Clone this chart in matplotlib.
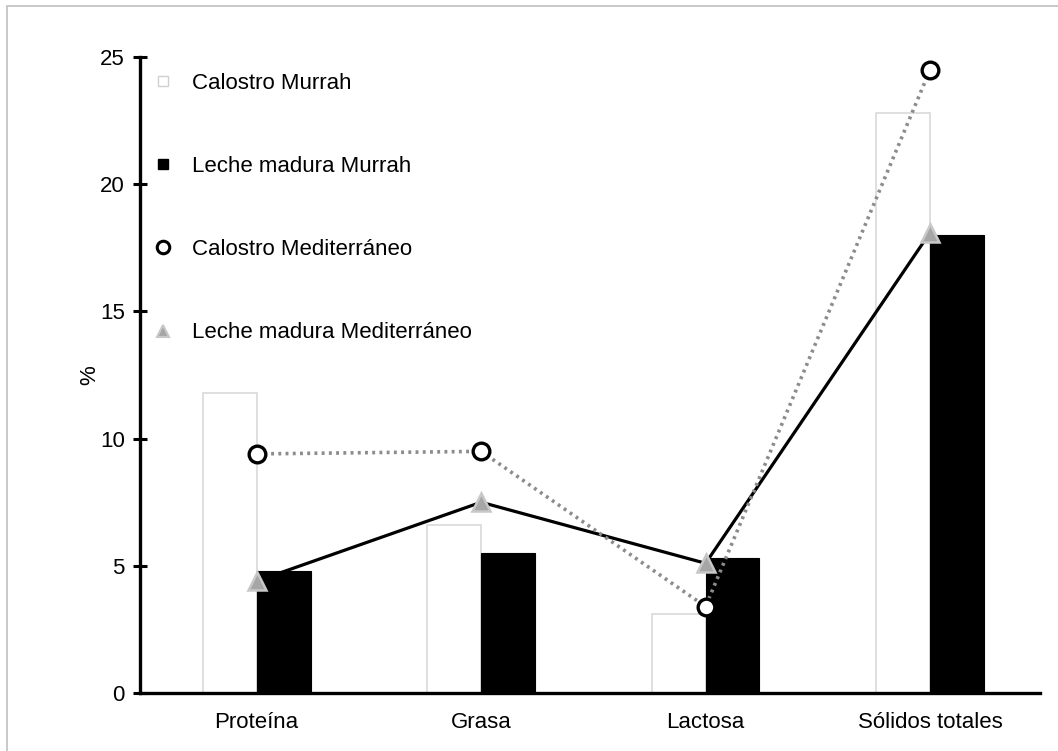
import numpy as np
import matplotlib
matplotlib.use('Agg')
import matplotlib.pyplot as plt
from matplotlib.lines import Line2D
from matplotlib.patches import Rectangle

plt.rcParams['font.family'] = ['Liberation Sans', 'DejaVu Sans']

categorias = ['Proteína', 'Grasa', 'Lactosa', 'Sólidos totales']
calostro_murrah = [11.8, 6.6, 3.1, 22.8]
leche_murrah = [4.8, 5.5, 5.3, 18.0]
calostro_med = [9.4, 9.5, 3.4, 24.5]
leche_med = [4.4, 7.5, 5.1, 18.1]
y_ticks = [0, 5, 10, 15, 20, 25]

fig = plt.figure(figsize=(10.58, 7.51), dpi=100)
ax = fig.add_axes([0.1323, 0.0772, 0.8507, 0.8468])

x = np.arange(len(categorias))
ancho = 0.24

ax.bar(x - ancho / 2, calostro_murrah, ancho, color='white',
       edgecolor='#d9d9d9', linewidth=1.2, zorder=2)
ax.bar(x + ancho / 2, leche_murrah, ancho, color='black',
       edgecolor='black', linewidth=0.8, zorder=2)

ax.plot(x, leche_med, color='black', linewidth=2.3, zorder=3)
ax.plot(x, calostro_med, color='#8c8c8c', linewidth=2.6,
        linestyle=(0, (0.8, 1.2)), zorder=4)
ax.plot(x, leche_med, linestyle='none', marker='^', markersize=13,
        markerfacecolor='#a6a6a6', markeredgecolor='#c8c8c8',
        markeredgewidth=1.8, zorder=5)
ax.plot(x, calostro_med, linestyle='none', marker='o', markersize=12,
        markerfacecolor='white', markeredgecolor='black',
        markeredgewidth=2.4, zorder=5)

ax.set_xlim(-0.52, 3.49)
ax.set_ylim(0, 25)
ax.set_xticks(x)
ax.set_xticklabels(categorias, fontsize=16)
ax.set_yticks(y_ticks)
ax.set_yticklabels([str(v) for v in y_ticks], fontsize=16)
ax.tick_params(axis='x', length=0, pad=14)
ax.tick_params(axis='y', direction='inout', length=10, width=2.2, pad=6)
ax.set_ylabel('%', fontsize=16, labelpad=0)

for lado in ['top', 'right']:
    ax.spines[lado].set_visible(False)
for lado in ['left', 'bottom']:
    ax.spines[lado].set_linewidth(2.4)

handles = [
    Line2D([], [], linestyle='none', marker='s', markersize=7,
           markerfacecolor='white', markeredgecolor='#d0d0d0', markeredgewidth=1),
    Line2D([], [], linestyle='none', marker='s', markersize=7,
           markerfacecolor='black', markeredgecolor='black'),
    Line2D([], [], linestyle='none', marker='o', markersize=9,
           markerfacecolor='white', markeredgecolor='black', markeredgewidth=2.2),
    Line2D([], [], linestyle='none', marker='^', markersize=9,
           markerfacecolor='#a6a6a6', markeredgecolor='#c8c8c8', markeredgewidth=1.5),
]
etiquetas = ['Calostro Murrah', 'Leche madura Murrah',
             'Calostro Mediterráneo', 'Leche madura Mediterráneo']
ax.legend(handles, etiquetas, loc='upper left', bbox_to_anchor=(-0.004, 1.0),
          frameon=False, fontsize=16, handlelength=1.0, handletextpad=0.8,
          labelspacing=2.8, borderaxespad=0.3)

# light frame around the figure
fig.add_artist(Rectangle((7 / 1058, -0.05), 1.1, 1 - 6 / 751 + 0.05,
                         transform=fig.transFigure, fill=False,
                         edgecolor='#c0c0c0', linewidth=1.2))

fig.savefig('out.png', dpi=100)
